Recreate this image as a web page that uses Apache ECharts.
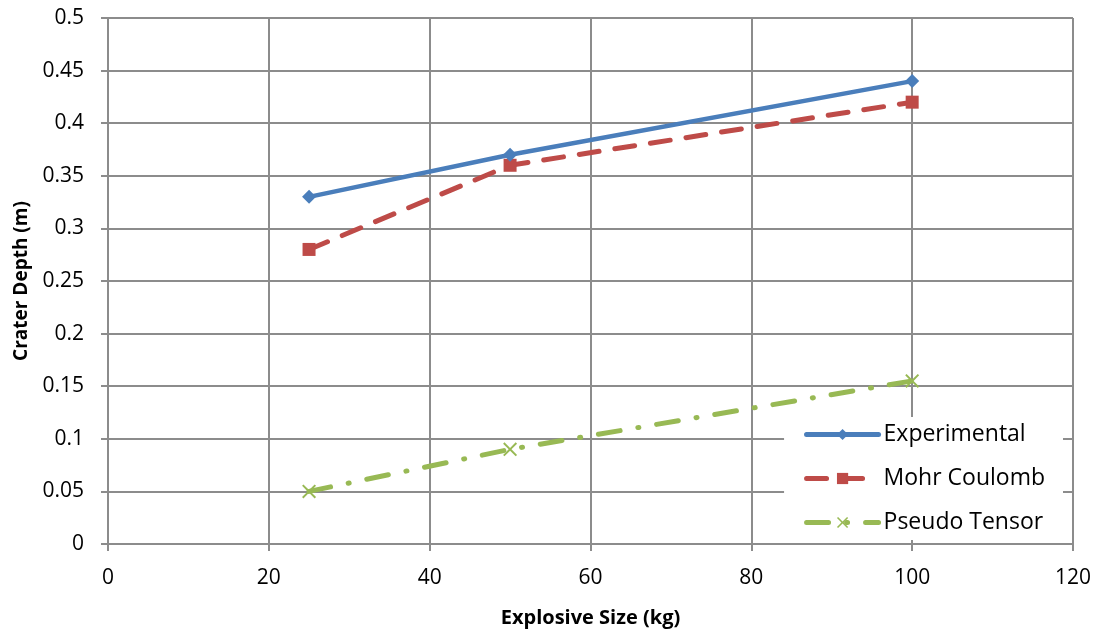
<!DOCTYPE html>
<html>
<head>
<meta charset="utf-8">
<script src="https://cdn.jsdelivr.net/npm/echarts@6/dist/echarts.min.js"></script>
<style>
  html, body { margin: 0; padding: 0; background: #fff; }
  #chart { width: 1101px; height: 634px; }
</style>
</head>
<body>
<div id="chart"></div>
<script>
// Explosive size (kg) and measured / simulated crater depth (m)
const explosiveSize = [25, 50, 100];
const experimental = [0.33, 0.37, 0.44];
const mohrCoulomb = [0.28, 0.36, 0.42];
const pseudoTensor = [0.05, 0.09, 0.155];

const FONT = '"Open Sans", "Liberation Sans", sans-serif';
const GRID = '#8c8c8c';
const crossPath = 'path://M1,0 L5,4 L9,0 L10,1 L6,5 L10,9 L9,10 L5,6 L1,10 L0,9 L4,5 L0,1 Z';

const pairs = ys => explosiveSize.map((x, i) => [x, ys[i]]);

const chart = echarts.init(document.getElementById('chart'), null, { renderer: 'canvas' });
chart.setOption({
  animation: false,
  backgroundColor: '#fff',
  grid: { left: 108, right: 28, top: 18, bottom: 90 },
  xAxis: {
    type: 'value', min: 0, max: 120, interval: 20,
    name: 'Explosive Size (kg)', nameLocation: 'middle', nameGap: 64,
    nameTextStyle: { fontFamily: FONT, fontWeight: 'bold', fontSize: 20, color: '#000' },
    axisLine: { show: true, lineStyle: { color: GRID, width: 2 } },
    axisTick: { show: true, length: 7, inside: false, lineStyle: { color: GRID, width: 2 } },
    axisLabel: { fontFamily: FONT, fontSize: 21, color: '#000', margin: 24 },
    splitLine: { show: true, lineStyle: { color: GRID, width: 2 } }
  },
  yAxis: {
    type: 'value', min: 0, max: 0.5, interval: 0.05,
    name: 'Crater Depth (m)', nameLocation: 'middle', nameGap: 76, nameRotate: 90,
    nameTextStyle: { fontFamily: FONT, fontWeight: 'bold', fontSize: 19, color: '#000' },
    axisLine: { show: true, lineStyle: { color: GRID, width: 2 } },
    axisTick: { show: true, length: 7, lineStyle: { color: GRID, width: 2 } },
    axisLabel: { fontFamily: FONT, fontSize: 21, color: '#000', margin: 24 },
    splitLine: { show: true, lineStyle: { color: GRID, width: 2 } }
  },
  legend: {
    orient: 'vertical', right: 38, top: 417,
    itemWidth: 72, itemHeight: 14, itemGap: 21,
    backgroundColor: '#fff', padding: [6, 18, 6, 20],
    textStyle: { fontFamily: FONT, fontSize: 23, color: '#000' },
    lineStyle: { width: 5 },
    data: ['Experimental', 'Mohr Coulomb', 'Pseudo Tensor']
  },
  series: [
    {
      name: 'Experimental', type: 'line', data: pairs(experimental),
      symbol: 'diamond', symbolSize: 14,
      lineStyle: { color: '#4a7ebb', width: 4.5, cap: 'round' },
      itemStyle: { color: '#4a7ebb' }, z: 3
    },
    {
      name: 'Mohr Coulomb', type: 'line', data: pairs(mohrCoulomb),
      symbol: 'rect', symbolSize: 13,
      lineStyle: { color: '#be4b48', width: 5, type: [20, 16], cap: 'round' },
      itemStyle: { color: '#be4b48' }, z: 2
    },
    {
      name: 'Pseudo Tensor', type: 'line', data: pairs(pseudoTensor),
      symbol: crossPath, symbolSize: 14,
      lineStyle: { color: '#98b954', width: 5, type: [22, 18, 1, 18], cap: 'round' },
      itemStyle: { color: '#98b954' }, z: 2
    }
  ]
});
</script>
</body>
</html>
